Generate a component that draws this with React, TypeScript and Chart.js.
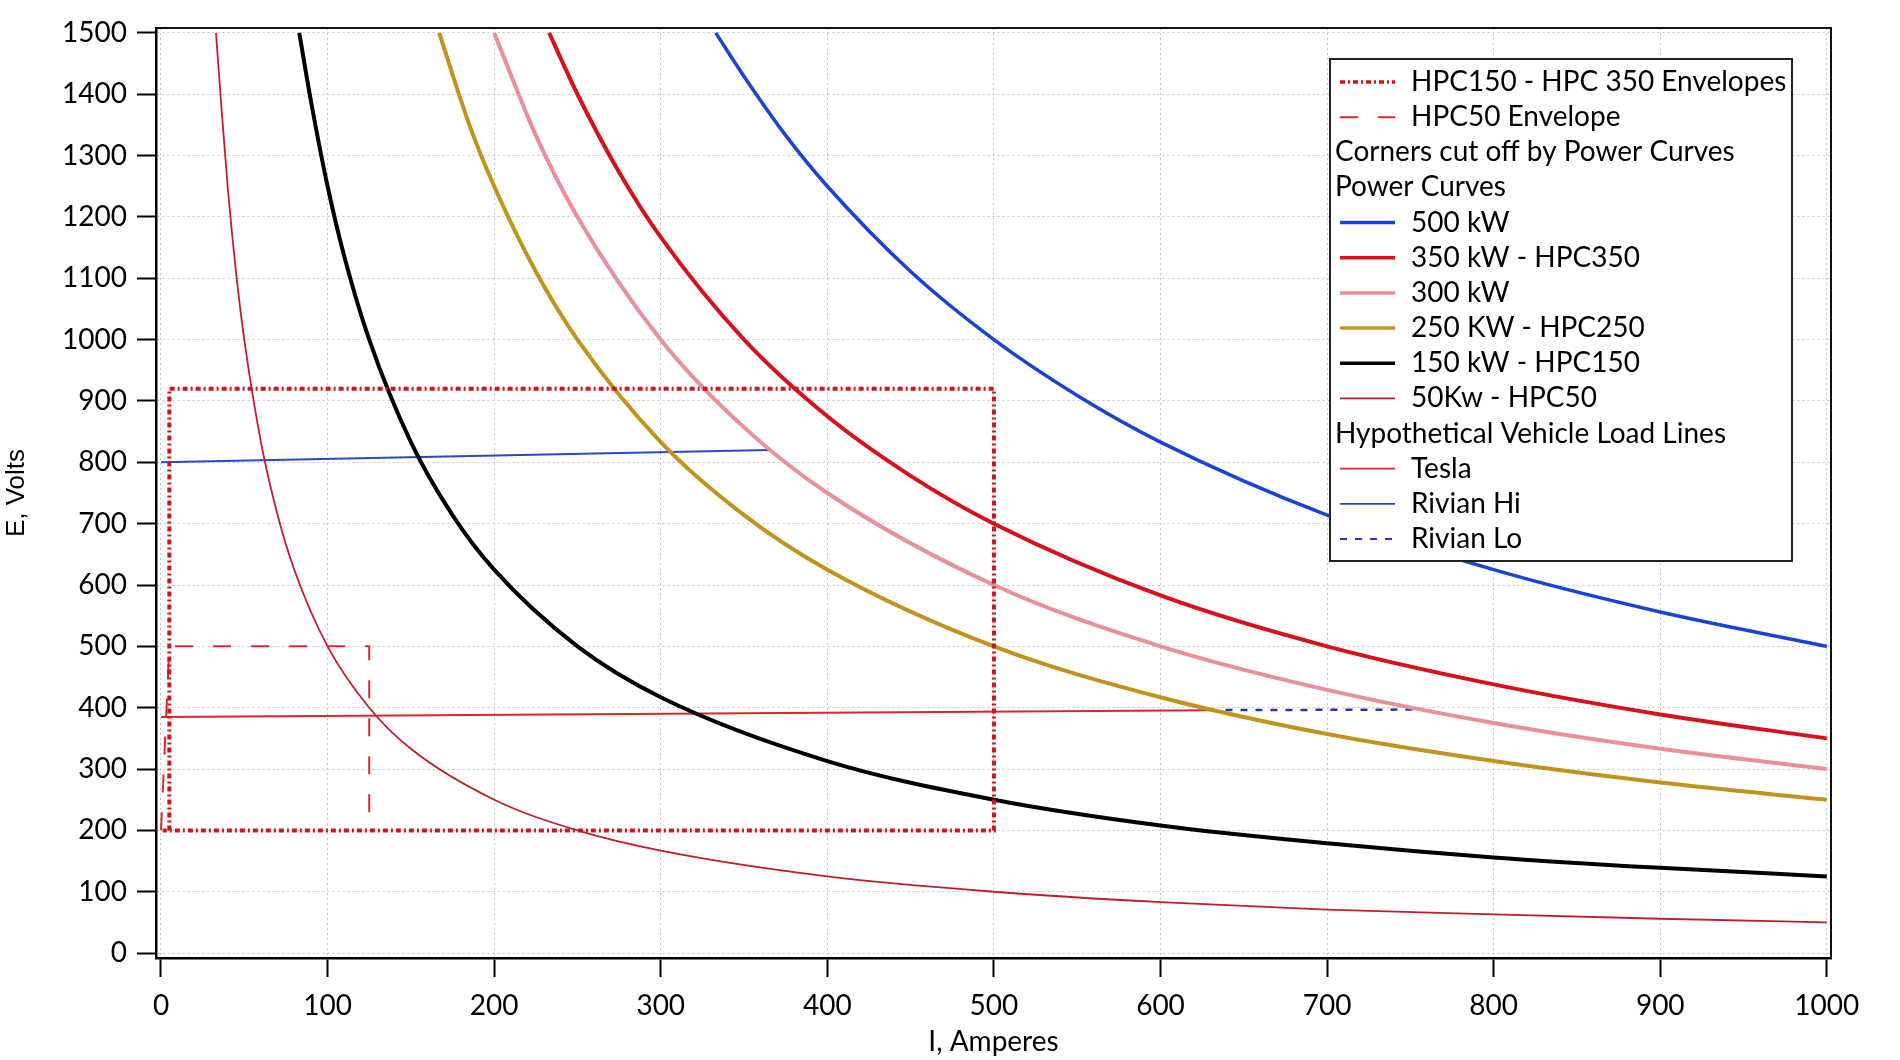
import React, { useEffect, useRef } from 'react';
import { Chart, registerables } from 'chart.js';

Chart.register(...registerables);

// Axis ticks
const xTicks = [0, 100, 200, 300, 400, 500, 600, 700, 800, 900, 1000];
const yTicks = [0, 100, 200, 300, 400, 500, 600, 700, 800, 900, 1000, 1100, 1200, 1300, 1400, 1500];

// Power curves (I in A, E in V)
const i500 = [333, 350, 375, 400, 450, 500, 550, 600, 700, 800, 900, 1000];
const v500 = [1500, 1429, 1333, 1250, 1111, 1000, 909, 833, 714, 625, 556, 500];

const i350 = [233, 250, 275, 300, 350, 400, 450, 500, 600, 700, 800, 900, 1000];
const v350 = [1500, 1400, 1273, 1167, 1000, 875, 778, 700, 583, 500, 438, 389, 350];

const i300 = [200, 225, 250, 300, 350, 400, 500, 600, 700, 800, 900, 1000];
const v300 = [1500, 1333, 1200, 1000, 857, 750, 600, 500, 429, 375, 333, 300];

const i250 = [167, 185, 200, 225, 250, 300, 350, 400, 500, 600, 700, 800, 900, 1000];
const v250 = [1500, 1351, 1250, 1111, 1000, 833, 714, 625, 500, 417, 357, 313, 278, 250];

const i150 = [83, 90, 100, 110, 125, 150, 175, 200, 250, 300, 400, 500, 600, 700, 800, 900, 1000];
const v150 = [1500, 1389, 1250, 1136, 1000, 833, 714, 625, 500, 417, 313, 250, 208, 179, 156, 139, 125];

const i50 = [33, 36, 40, 45, 50, 60, 70, 80, 100, 125, 150, 200, 250, 300, 400, 500, 600, 700, 800, 900, 1000];
const v50 = [1500, 1389, 1250, 1111, 1000, 833, 714, 625, 500, 400, 333, 250, 200, 167, 125, 100, 83, 71, 63, 56, 50];

// Envelopes
const iEnv150 = [5, 5, 500, 500, 1];
const vEnv150 = [200, 920, 920, 200, 200];
const iEnv50 = [0, 5, 125, 125];
const vEnv50 = [200, 500, 500, 200];

// Vehicle load lines
const iTesla = [0, 630];
const vTesla = [385, 396];
const iRivianHi = [0, 365];
const vRivianHi = [800, 820];
const iRivianLo = [630, 757];
const vRivianLo = [396, 397];

const legendRows = [
  'HPC150 - HPC 350 Envelopes',
  'HPC50 Envelope',
  'Corners cut off by Power Curves',
  'Power Curves',
  '500 kW',
  '350 kW - HPC350',
  '300 kW',
  '250 KW - HPC250',
  '150 kW - HPC150',
  '50Kw - HPC50',
  'Hypothetical Vehicle Load Lines',
  'Tesla',
  'Rivian Hi',
  'Rivian Lo',
];

const pts = (xs: number[], ys: number[]) => xs.map((x, k) => ({ x, y: ys[k] }));

const FONT = 'Lato, "Open Sans", sans-serif';

const framePlugin = {
  id: 'frame',
  afterDraw(chart: any) {
    const { ctx, chartArea } = chart;
    ctx.save();
    ctx.strokeStyle = '#111';
    ctx.lineWidth = 2;
    ctx.beginPath();
    ctx.moveTo(chartArea.left, chartArea.top);
    ctx.lineTo(chartArea.right, chartArea.top);
    ctx.lineTo(chartArea.right, chartArea.bottom);
    ctx.stroke();
    ctx.restore();
  },
};

const legendPlugin = {
  id: 'boxLegend',
  afterDraw(chart: any) {
    const ctx = chart.ctx;
    ctx.save();
    const bx = 1330, by = 59, bw = 462, bh = 502;
    ctx.fillStyle = '#ffffff';
    ctx.fillRect(bx, by, bw, bh);
    ctx.strokeStyle = '#222';
    ctx.lineWidth = 2;
    ctx.strokeRect(bx, by, bw, bh);
    ctx.font = `28px ${FONT}`;
    ctx.textBaseline = 'middle';
    ctx.textAlign = 'left';
    legendRows.forEach((row, k) => {
      const y = 82 + k * 35.15;
      const ds = chart.data.datasets.find((d: any) => d.label === row);
      ctx.fillStyle = '#000';
      if (!ds) {
        ctx.fillText(row, 1335, y);
        return;
      }
      ctx.strokeStyle = ds.borderColor;
      ctx.lineWidth = ds.legendWidth;
      ctx.setLineDash(ds.borderDash || []);
      ctx.beginPath();
      ctx.moveTo(1340, y);
      ctx.lineTo(1395, y);
      ctx.stroke();
      ctx.setLineDash([]);
      ctx.fillText(row, 1411, y);
    });
    ctx.restore();
  },
};

export default function App() {
  const ref = useRef<HTMLCanvasElement | null>(null);

  useEffect(() => {
    if (!ref.current) return;
    const curve = (label: string, xs: number[], ys: number[], color: string, width: number, legendWidth: number, dash: number[] = []) => ({
      label,
      data: pts(xs, ys),
      borderColor: color,
      backgroundColor: color,
      borderWidth: width,
      legendWidth,
      borderDash: dash,
      pointRadius: 0,
      fill: false,
      cubicInterpolationMode: 'monotone',
    });
    const straight = (label: string, xs: number[], ys: number[], color: string, width: number, legendWidth: number, dash: number[] = []) => ({
      label,
      data: pts(xs, ys),
      borderColor: color,
      backgroundColor: color,
      borderWidth: width,
      legendWidth,
      borderDash: dash,
      pointRadius: 0,
      fill: false,
      tension: 0,
    });

    const datasets: any[] = [
      straight('HPC150 - HPC 350 Envelopes', iEnv150, vEnv150, '#d0141f', 4, 3.5, [5, 3, 2, 3]),
      straight('HPC50 Envelope', iEnv50, vEnv50, '#d42a30', 2, 2, [18, 20]),
      curve('500 kW', i500, v500, '#1843d4', 3.5, 3.5),
      curve('350 kW - HPC350', i350, v350, '#d8101c', 4, 3.5),
      curve('300 kW', i300, v300, '#ea8e98', 4, 3.5),
      curve('250 KW - HPC250', i250, v250, '#c3921d', 4, 3.5),
      curve('150 kW - HPC150', i150, v150, '#000000', 4, 3.5),
      curve('50Kw - HPC50', i50, v50, '#bd1f2c', 1.8, 1.8),
      straight('Tesla', iTesla, vTesla, '#d8262c', 2, 1.8),
      straight('Rivian Hi', iRivianHi, vRivianHi, '#2749c4', 2, 1.8),
      straight('Rivian Lo', iRivianLo, vRivianLo, '#2238b0', 2.5, 2, [7, 8]),
    ];

    const plain = (v: any) => String(v);

    const chart = new Chart(ref.current, {
      type: 'line',
      data: { datasets },
      options: {
        animation: false,
        responsive: true,
        maintainAspectRatio: false,
        parsing: true,
        layout: { padding: { top: 28, right: 69, left: 0, bottom: 0 } },
        plugins: {
          legend: { display: false },
          tooltip: { enabled: false },
        },
        scales: {
          x: {
            type: 'linear',
            min: -3,
            max: 1002.5,
            afterBuildTicks: (scale: any) => {
              scale.ticks = xTicks.map((v) => ({ value: v }));
            },
            afterFit: (scale: any) => {
              scale.height = 102;
            },
            ticks: {
              color: '#000',
              font: { family: FONT, size: 28 },
              padding: 12,
              maxRotation: 0,
              autoSkip: false,
              callback: plain,
            },
            grid: {
              color: '#c4c4c4',
              lineWidth: 1,
              tickLength: 19,
              tickColor: '#000',
              tickWidth: 2,
              tickBorderDash: [],
            },
            border: { display: true, color: '#000', width: 2.5, dash: [2, 3] },
            title: {
              display: true,
              text: 'I, Amperes',
              color: '#000',
              font: { family: FONT, size: 28 },
              padding: { top: 0, bottom: 1 },
            },
          },
          y: {
            type: 'linear',
            min: -8,
            max: 1508,
            afterBuildTicks: (scale: any) => {
              scale.ticks = yTicks.map((v) => ({ value: v }));
            },
            afterFit: (scale: any) => {
              scale.width = 156;
            },
            ticks: {
              color: '#000',
              font: { family: FONT, size: 28 },
              padding: 10,
              autoSkip: false,
              callback: plain,
            },
            grid: {
              color: '#c4c4c4',
              lineWidth: 1,
              tickLength: 19,
              tickColor: '#000',
              tickWidth: 2,
              tickBorderDash: [],
            },
            border: { display: true, color: '#000', width: 2.5, dash: [2, 3] },
            title: {
              display: true,
              text: 'E, Volts',
              color: '#000',
              font: { family: '"Liberation Sans", Arial, sans-serif', size: 26 },
              padding: { top: 1, bottom: 0 },
            },
          },
        },
      } as any,
      plugins: [framePlugin, legendPlugin],
    });

    return () => chart.destroy();
  }, []);

  return (
    <div style={{ position: 'absolute', left: 0, top: 0, width: 1900, height: 1060, background: '#fff' }}>
      <canvas ref={ref} />
    </div>
  );
}
